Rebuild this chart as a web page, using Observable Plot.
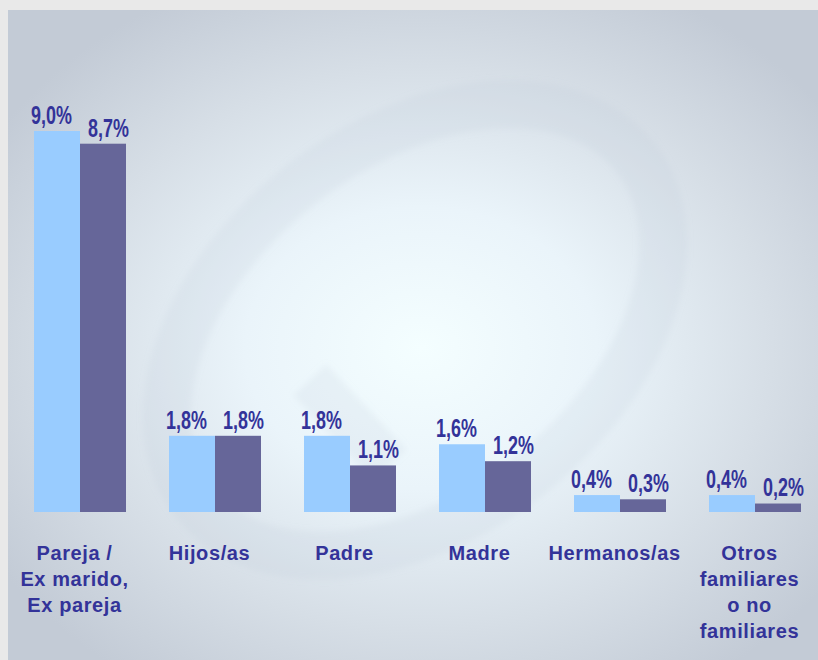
<!DOCTYPE html>
<html><head><meta charset="utf-8">
<script src="https://cdn.jsdelivr.net/npm/d3@7"></script>
<script src="https://cdn.jsdelivr.net/npm/@observablehq/plot@0.6"></script>
<style>
body{margin:0;width:818px;height:660px;background:#e9e9e9;overflow:hidden;position:relative;}
#panel{position:absolute;left:8px;top:10px;width:810px;height:650px;
  background:radial-gradient(ellipse 62% 62% at 51% 52%, #f4feff 0%, #eaf4fa 35%, #d6dee6 70%, #c3cbd6 100%);}
#wm{position:absolute;left:0;top:0;}
#chart{position:absolute;left:0;top:0;}
</style></head><body>
<div id="panel"></div>
<svg id="wm" width="818" height="660">
  <defs><filter id="bl"><feGaussianBlur stdDeviation="3"/></filter></defs>
  <g filter="url(#bl)" fill="none" stroke="#b9c4d2" stroke-opacity="0.16">
    <ellipse cx="415" cy="330" rx="280" ry="185" transform="rotate(-38 415 330)" stroke-width="48"/>
    <path d="M310,380 L390,465" stroke-width="45"/>
  </g>
</svg>
<div id="chart"></div>
<script>
const categories = ["Pareja / Ex marido, Ex pareja","Hijos/as","Padre","Madre","Hermanos/as","Otros familiares o no familiares"];
const tickLabels = ["Pareja /\nEx marido,\nEx pareja","Hijos/as","Padre","Madre","Hermanos/as","Otros\nfamiliares\no no\nfamiliares"];
const seriesNames = ["Serie 1","Serie 2"];
const serie1 = [9.0,1.8,1.8,1.6,0.4,0.4];
const serie2 = [8.7,1.8,1.1,1.2,0.3,0.2];
const seriesColors = ["#99ccff","#666699"];

const rows = [];
categories.forEach((c,i)=>{
  rows.push({cat:c, serie:seriesNames[0], value:serie1[i]});
  rows.push({cat:c, serie:seriesNames[1], value:serie2[i]});
});
const fmt = v => v.toFixed(1).replace(".", ",") + "%";
const labelOf = new Map(categories.map((c,i)=>[c,tickLabels[i]]));
const FONT = "'Liberation Sans',Arial,sans-serif";

const chart = Plot.plot({
  width: 818, height: 660,
  marginLeft: 18, marginRight: 2, marginTop: 131, marginBottom: 148,
  style: {background:"transparent", fontFamily: FONT, color:"#333399"},
  fx: {domain: categories, paddingInner: 0.32, paddingOuter: 0.1, label: null},
  x: {domain: seriesNames, paddingInner: 0, paddingOuter: 0, axis: null},
  y: {domain: [0, 9], axis: null, nice: false},
  color: {domain: seriesNames, range: seriesColors},
  marks: [
    Plot.barY(rows, {fx:"cat", x:"serie", y:"value", fill:"serie", insetLeft:0, insetRight:0}),
    Plot.text(rows.filter(d=>d.serie===seriesNames[0]), {fx:"cat", x:"serie", y:"value", text:d=>fmt(d.value), dy:-16, dx:-6, fontSize:26, fontWeight:"bold", fill:"#333399"}),
    Plot.text(rows.filter(d=>d.serie===seriesNames[1]), {fx:"cat", x:"serie", y:"value", text:d=>fmt(d.value), dy:-16, dx:5, fontSize:26, fontWeight:"bold", fill:"#333399"}),
    Plot.axisFx({anchor:"bottom", tickSize:0, tickPadding:29, dx:-6, fontSize:20, fontWeight:"bold", lineHeight:1.3, fill:"#333399", tickFormat:d=>labelOf.get(d), label:null})
  ]
});
// condense the value labels horizontally (narrow bold face in the reference)
chart.querySelectorAll("g[aria-label='text'] text").forEach(t=>{
  t.setAttribute("transform", (t.getAttribute("transform") || "") + " scale(0.69,1)");
});
chart.querySelectorAll("g[aria-label^='fx-axis'] text").forEach(t=>t.style.letterSpacing="0.6px");
document.getElementById("chart").appendChild(chart);
</script>
</body></html>
